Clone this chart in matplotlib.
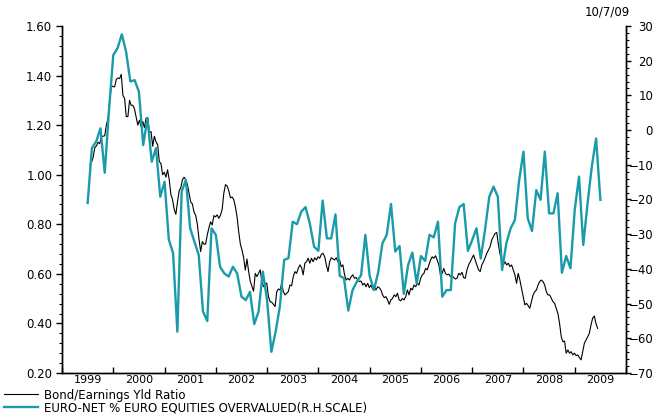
import numpy as np
import matplotlib
matplotlib.use("Agg")
import matplotlib.pyplot as plt
from matplotlib.lines import Line2D
from matplotlib.ticker import MultipleLocator, FormatStrFormatter

# --- data ---------------------------------------------------------------
# monthly survey, Jul 1999 .. Jul 2009 (right scale, %)
euro_start = 1999.5
euro_net = [
    -21, -5.2, -3.3, 0.5, -12.3, 5.8, 21.6, 23.6, 27.6, 22.6,
    14, 14.4, 11.1, -4.3, 3.4, -9.1, -5.2, -19.2, -14.9, -31.5,
    -35.5, -58.1, -17.7, -14.4, -28.3, -32.2, -36, -52.3, -55, -28.3,
    -30.2, -39.4, -41.3, -42.2, -39.4, -41.3, -48, -49, -46.6, -55.9,
    -52.3, -40.8, -49, -63.9, -58.1, -50.7, -37.4, -36.9, -26.4, -27.1,
    -23.5, -22.2, -26.9, -33.6, -34.8, -20.3, -31.2, -31.2, -24.3, -42,
    -42.7, -52, -46.1, -43.7, -41.8, -30.2, -42, -46.1, -41, -32.6,
    -30.2, -21.3, -35, -33.4, -47.2, -38.9, -35.3, -44.2, -36.3, -37.7,
    -30.2, -30.9, -26.4, -48, -46.1, -46.1, -26.9, -22.2, -21.3, -34.8,
    -31.7, -28.3, -37, -28.8, -19.2, -16.3, -19.2, -40.3, -32.6, -28.3,
    -25.9, -14.4, -6.2, -25.4, -29.1, -17.3, -20.1, -6.2, -24, -24,
    -18.2, -41.1, -36.3, -39.8, -23, -13.4, -33.1, -21.1, -10.5, -2.4, -20.1,
]

# bond / earnings yield ratio, sampled every 1/31 year from mid 1999
bond_start = 1999.543
bond_step = 1 / 31
bond_ratio = [
    1.039, 1.05, 1.07, 1.109, 1.117, 1.131, 1.125, 1.155, 1.155, 1.157,
    1.20, 1.228, 1.295, 1.36, 1.355, 1.355, 1.385, 1.39, 1.388, 1.405,
    1.32, 1.308, 1.235, 1.234, 1.30, 1.28, 1.28, 1.265, 1.232, 1.20,
    1.22, 1.195, 1.215, 1.19, 1.228, 1.231, 1.17, 1.174, 1.115, 1.155,
    1.133, 1.121, 1.053, 1.045, 1.00, 1.01, 0.99, 1.02, 0.98, 0.92,
    0.90, 0.86, 0.84, 0.89, 0.935, 0.948, 0.98, 0.99, 0.979, 0.96,
    0.925, 0.89, 0.882, 0.849, 0.836, 0.80, 0.74, 0.69, 0.73, 0.72,
    0.72, 0.757, 0.786, 0.81, 0.797, 0.835, 0.83, 0.838, 0.824, 0.837,
    0.86, 0.925, 0.96, 0.955, 0.935, 0.907, 0.91, 0.90, 0.87, 0.83,
    0.77, 0.72, 0.696, 0.665, 0.615, 0.66, 0.61, 0.57, 0.55, 0.53,
    0.602, 0.589, 0.602, 0.616, 0.569, 0.548, 0.562, 0.562, 0.508, 0.488,
    0.485, 0.477, 0.468, 0.528, 0.539, 0.535, 0.562, 0.528, 0.515, 0.522,
    0.528, 0.555, 0.552, 0.589, 0.609, 0.602, 0.622, 0.636, 0.625, 0.596,
    0.643, 0.649, 0.663, 0.643, 0.663, 0.649, 0.665, 0.656, 0.669, 0.663,
    0.679, 0.683, 0.669, 0.636, 0.609, 0.649, 0.665, 0.660, 0.656, 0.665,
    0.649, 0.656, 0.629, 0.636, 0.596, 0.575, 0.582, 0.575, 0.589, 0.596,
    0.582, 0.585, 0.575, 0.569, 0.571, 0.555, 0.562, 0.548, 0.562, 0.544,
    0.555, 0.539, 0.548, 0.535, 0.548, 0.544, 0.535, 0.515, 0.504, 0.508,
    0.495, 0.477, 0.495, 0.501, 0.515, 0.508, 0.522, 0.495, 0.491, 0.501,
    0.495, 0.508, 0.535, 0.515, 0.542, 0.535, 0.555, 0.548, 0.562, 0.555,
    0.582, 0.596, 0.602, 0.622, 0.616, 0.636, 0.656, 0.669, 0.663, 0.673,
    0.656, 0.636, 0.596, 0.602, 0.622, 0.602, 0.596, 0.599, 0.589, 0.592,
    0.585, 0.579, 0.582, 0.602, 0.596, 0.606, 0.585, 0.582, 0.616, 0.636,
    0.649, 0.663, 0.676, 0.656, 0.636, 0.616, 0.609, 0.636, 0.649, 0.665,
    0.683, 0.696, 0.710, 0.737, 0.750, 0.763, 0.767, 0.72, 0.68, 0.656,
    0.636, 0.649, 0.636, 0.643, 0.629, 0.636, 0.616, 0.596, 0.562, 0.602,
    0.575, 0.542, 0.508, 0.475, 0.481, 0.472, 0.461, 0.488, 0.515, 0.528,
    0.535, 0.555, 0.569, 0.575, 0.569, 0.555, 0.528, 0.515, 0.515, 0.501,
    0.488, 0.481, 0.461, 0.44, 0.40, 0.347, 0.326, 0.329, 0.28, 0.293,
    0.280, 0.286, 0.273, 0.280, 0.270, 0.273, 0.262, 0.253, 0.286, 0.320,
    0.333, 0.347, 0.360, 0.394, 0.421, 0.43, 0.40, 0.38,
]

years = list(range(1999, 2010))
bond_label = "Bond/Earnings Yld Ratio"
euro_label = "EURO-NET % EURO EQUITIES OVERVALUED(R.H.SCALE)"
date_stamp = "10/7/09"

TEAL = "#1a9ba9"

# --- figure -------------------------------------------------------------
W, H = 665, 415
fig = plt.figure(figsize=(W / 100, H / 100), dpi=100)
ax = fig.add_axes([62 / W, 1 - 373 / H, (626 - 62) / W, (373 - 26) / H])

t_bond = bond_start + np.arange(len(bond_ratio)) * bond_step
ax.plot(t_bond, bond_ratio, color="black", lw=0.8)
ax.set_xlim(1999, 2010)
ax.set_ylim(0.2, 1.6)

ax2 = ax.twinx()
t_euro = euro_start + np.arange(len(euro_net)) / 12
ax2.plot(t_euro, euro_net, color=TEAL, lw=1.7)
ax2.set_ylim(-70, 30)

for a in (ax, ax2):
    a.spines["top"].set_visible(False)
    for s in a.spines.values():
        s.set_linewidth(1.0)

# x axis: tick at each year boundary, label in the middle of the year
ax.set_xticks(range(1999, 2011))
ax.set_xticklabels([])
ax.set_xticks([y + 0.5 for y in years], minor=True)
ax.set_xticklabels([str(y) for y in years], minor=True)
ax.tick_params(axis="x", which="major", direction="in", length=4, width=1)
ax.tick_params(axis="x", which="minor", length=0, pad=1.5, labelsize=8)

# left axis
ax.yaxis.set_major_locator(MultipleLocator(0.2))
ax.yaxis.set_minor_locator(MultipleLocator(0.04))
ax.yaxis.set_major_formatter(FormatStrFormatter("%.2f"))
ax.tick_params(axis="y", which="major", direction="out", length=4, width=1,
               pad=3, labelsize=8.5)
ax.tick_params(axis="y", which="minor", direction="out", length=2.5, width=0.8)

# right axis, labels right aligned
ax2.yaxis.set_major_locator(MultipleLocator(10))
ax2.yaxis.set_minor_locator(MultipleLocator(2))
ax2.tick_params(axis="y", which="major", direction="out", length=3.5, width=1,
                pad=16, labelsize=8.5)
ax2.tick_params(axis="y", which="minor", direction="out", length=2.2, width=0.8)
for lab in ax2.get_yticklabels():
    lab.set_horizontalalignment("right")

fig.text(630 / W, 1 - 12 / H, date_stamp, ha="right", va="center", fontsize=8.5)

handles = [Line2D([], [], color="black", lw=0.8),
           Line2D([], [], color=TEAL, lw=1.7)]
fig.legend(handles, [bond_label, euro_label], loc="upper left",
           bbox_to_anchor=(4 / W, 1 - 388.5 / H), frameon=False, fontsize=8.5,
           handlelength=2.9, handletextpad=0.5, labelspacing=0.0,
           borderpad=0, borderaxespad=0)

fig.savefig("out.png", dpi=100)
